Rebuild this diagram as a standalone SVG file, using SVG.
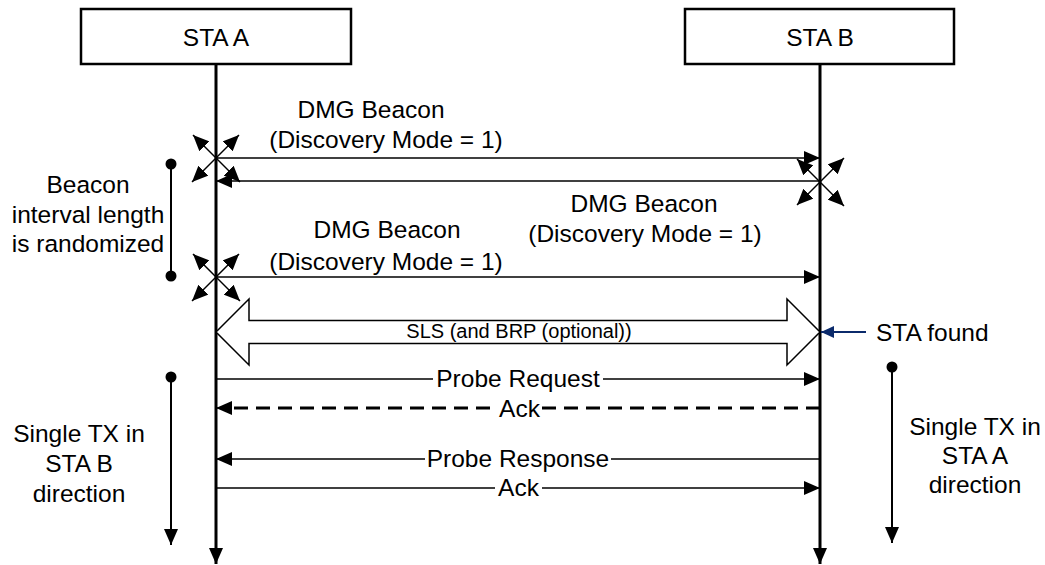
<svg xmlns="http://www.w3.org/2000/svg" width="1045" height="565" viewBox="0 0 1045 565">
<style>
text{font-family:"Liberation Sans",Arial,sans-serif;font-size:24.5px;fill:#000}
.c{text-anchor:middle}
.box{fill:#fff;stroke:#000;stroke-width:2.5}
.life{stroke:#000;stroke-width:3;fill:none}
.msg{stroke:#000;stroke-width:1.5;fill:none}
.dash{stroke:#000;stroke-width:3;fill:none;stroke-dasharray:14 8}
.xa{stroke:#000;stroke-width:1.5;fill:none;marker-end:url(#ah2)}
.bg{fill:#fff}
</style>
<defs>
<marker id="ah" markerUnits="userSpaceOnUse" markerWidth="16" markerHeight="14" refX="16" refY="7" orient="auto"><path d="M0,0 L16,7 L0,14 z" fill="#000"/></marker>
<marker id="ahl" markerUnits="userSpaceOnUse" markerWidth="16" markerHeight="14" refX="16" refY="7" orient="auto"><path d="M0,0 L16,7 L0,14 z" fill="#000"/></marker>
<marker id="ah2" markerUnits="userSpaceOnUse" markerWidth="16" markerHeight="14" refX="16" refY="7" orient="auto"><path d="M0,0 L16,7 L0,14 z" fill="#000"/></marker>
<marker id="ahb" markerUnits="userSpaceOnUse" markerWidth="13" markerHeight="12" refX="13" refY="6" orient="auto"><path d="M0,0 L13,6 L0,12 z" fill="#0b2a6b"/></marker>
</defs>

<g id="staA">
<rect class="box" x="81" y="9" width="270" height="55"/>
<text class="c" x="216" y="46">STA A</text>
</g>
<g id="staB">
<rect class="box" x="685" y="9" width="269" height="55"/>
<text class="c" x="820" y="46">STA B</text>
</g>

<g id="connectors">
<line class="life" x1="216" y1="64" x2="216" y2="564" marker-end="url(#ahl)"/>
<line class="life" x1="820" y1="64" x2="820" y2="564" marker-end="url(#ahl)"/>

<line class="msg" x1="216" y1="158" x2="820" y2="158" marker-end="url(#ah)"/>
<line class="msg" x1="820" y1="181" x2="216" y2="181" marker-end="url(#ah)"/>
<line class="msg" x1="216" y1="277" x2="820" y2="277" marker-end="url(#ah)"/>

<g id="crossA1">
<line class="xa" x1="216" y1="158" x2="193" y2="135"/>
<line class="xa" x1="216" y1="158" x2="239" y2="135"/>
<line class="xa" x1="216" y1="158" x2="192" y2="182"/>
<line class="xa" x1="216" y1="158" x2="240" y2="182"/>
</g>
<g id="crossB">
<line class="xa" x1="820" y1="182" x2="797" y2="159"/>
<line class="xa" x1="820" y1="182" x2="844" y2="158"/>
<line class="xa" x1="820" y1="182" x2="797" y2="205"/>
<line class="xa" x1="820" y1="182" x2="844" y2="206"/>
</g>
<g id="crossA2">
<line class="xa" x1="216" y1="277" x2="193" y2="254"/>
<line class="xa" x1="216" y1="277" x2="239" y2="254"/>
<line class="xa" x1="216" y1="277" x2="192" y2="301"/>
<line class="xa" x1="216" y1="277" x2="240" y2="301"/>
</g>

<polygon points="216,332 249,299 249,320.5 787,320.5 787,299 820,332 787,365 787,343.5 249,343.5 249,365" fill="#fff" stroke="#000" stroke-width="1.5" stroke-linejoin="miter"/>

<line x1="866" y1="332" x2="821" y2="332" stroke="#0b2a6b" stroke-width="2" marker-end="url(#ahb)"/>

<line class="msg" x1="216" y1="379" x2="820" y2="379" marker-end="url(#ah)"/>
<line class="dash" x1="820" y1="408" x2="232" y2="408"/>
<line class="msg" x1="232" y1="408" x2="216" y2="408" marker-end="url(#ah)"/>
<line class="msg" x1="820" y1="459" x2="216" y2="459" marker-end="url(#ah)"/>
<line class="msg" x1="216" y1="488" x2="820" y2="488" marker-end="url(#ah)"/>

<line stroke="#000" stroke-width="2" x1="171" y1="164" x2="171" y2="276"/>
<circle cx="171" cy="164" r="5.5" fill="#000"/>
<circle cx="171" cy="276" r="5.5" fill="#000"/>
<line stroke="#000" stroke-width="2" x1="171" y1="377" x2="171" y2="545" marker-end="url(#ahl)"/>
<circle cx="171" cy="377" r="5.5" fill="#000"/>
<line stroke="#000" stroke-width="2" x1="892" y1="367" x2="892" y2="543" marker-end="url(#ahl)"/>
<circle cx="892" cy="367" r="5.5" fill="#000"/>
</g>

<g id="labels">
<text class="c" x="371" y="118">DMG Beacon</text>
<text class="c" x="386" y="148">(Discovery Mode = 1)</text>
<text class="c" x="644" y="212">DMG Beacon</text>
<text class="c" x="645" y="242">(Discovery Mode = 1)</text>
<text class="c" x="387" y="238">DMG Beacon</text>
<text class="c" x="386" y="270">(Discovery Mode = 1)</text>

<text class="c" x="519" y="338" style="font-size:20px">SLS (and BRP (optional))</text>
<text x="876" y="341">STA found</text>

<rect class="bg" x="433" y="366" width="170" height="24"/>
<text class="c" x="518" y="387">Probe Request</text>
<rect class="bg" x="497" y="396" width="45" height="24"/>
<text class="c" x="519.5" y="417">Ack</text>
<rect class="bg" x="425" y="447" width="186" height="24"/>
<text class="c" x="518" y="467">Probe Response</text>
<rect class="bg" x="495" y="477" width="47" height="22"/>
<text class="c" x="518.5" y="496">Ack</text>

<text class="c" x="88" y="193">Beacon</text>
<text class="c" x="88" y="223">interval length</text>
<text class="c" x="88" y="252">is randomized</text>

<text class="c" x="79" y="442">Single TX in</text>
<text class="c" x="79" y="472">STA B</text>
<text class="c" x="79" y="502">direction</text>

<text class="c" x="975" y="435">Single TX in</text>
<text class="c" x="975" y="464">STA A</text>
<text class="c" x="975" y="493">direction</text>
</g>
</svg>
